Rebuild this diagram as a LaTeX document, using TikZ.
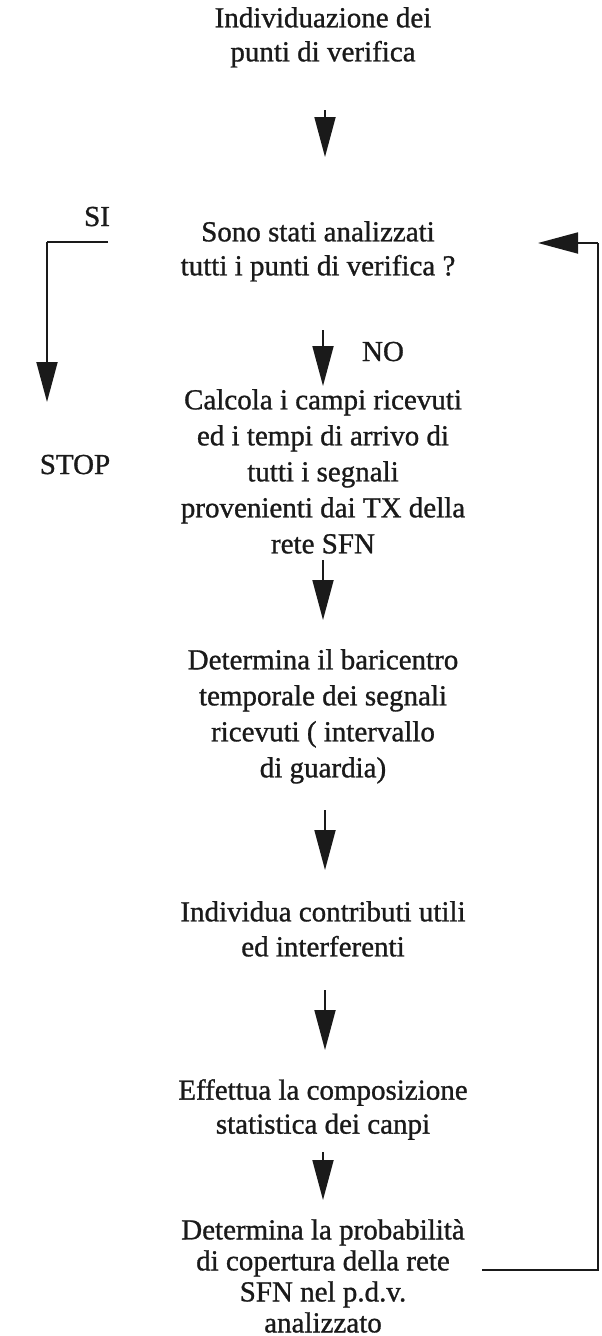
\documentclass[tikz,border=0pt]{standalone}
\usepackage{fontspec}
\setmainfont{Liberation Serif}[FakeBold=1]
\usetikzlibrary{arrows.meta}
\definecolor{ink}{HTML}{1A1A1A}
\tikzset{
  txt/.style={align=center, inner sep=0pt, anchor=north, text=ink,
    font=\fontsize{29}{34}\selectfont},
  lbl/.style={inner sep=0pt, anchor=base, text=ink, font=\fontsize{29}{34}\selectfont},
  arr/.style={draw=ink, line width=1.8pt, -{Triangle[length=40pt,width=21pt]}},
  lne/.style={draw=ink, line width=1.6pt}
}
\begin{document}
\begin{tikzpicture}[x=1pt,y=-1pt]
\useasboundingbox (0,0) rectangle (602,1336);
\node[txt] (n1) at (323,7) {Individuazione dei\\punti di verifica};
\node[txt] (n2) at (318,221) {Sono stati analizzati\\tutti i punti di verifica ?};
\node[txt, font=\fontsize{29}{36}\selectfont] (n3) at (323,389) {Calcola i campi ricevuti\\ed i tempi di arrivo di\\tutti i segnali\\provenienti dai TX della\\rete SFN};
\node[txt, font=\fontsize{29}{36}\selectfont] (n4) at (323,649) {Determina il baricentro\\temporale dei segnali\\ricevuti ( intervallo\\di guardia)};
\node[txt, font=\fontsize{29}{35}\selectfont] (n5) at (323,901) {Individua contributi utili\\ed interferenti};
\node[txt] (n6) at (323,1079) {Effettua la composizione\\statistica dei canpi};
\node[txt, font=\fontsize{29}{31}\selectfont] (n7) at (323,1219) {Determina la probabilità\\di copertura della rete\\SFN nel p.d.v.\\analizzato};
\node[lbl] (si) at (97,226) {SI};
\node[lbl] (no) at (383,361) {NO};
\node[lbl] (stop) at (75,474) {STOP};
% arrow end points
\coordinate (a1s) at (325,110); \coordinate (a1e) at (325,157);
\coordinate (a2s) at (323,330); \coordinate (a2e) at (323,386);
\coordinate (a3s) at (323,560); \coordinate (a3e) at (323,620);
\coordinate (a4s) at (325,810); \coordinate (a4e) at (325,870);
\coordinate (a5s) at (325,990); \coordinate (a5e) at (325,1050);
\coordinate (a6s) at (323,1152); \coordinate (a6e) at (323,1200);
\draw[arr] (a1s) -- (a1e);
\draw[arr] (a2s) -- (a2e);
\draw[arr] (a3s) -- (a3e);
\draw[arr] (a4s) -- (a4e);
\draw[arr] (a5s) -- (a5e);
\draw[arr] (a6s) -- (a6e);
% SI branch
\coordinate (sis) at (108,242); \coordinate (sic) at (47,242); \coordinate (sie) at (47,402);
\draw[lne] (sis) -- (sic);
\draw[arr] (sic) -- (sie);
% feedback loop
\coordinate (lbs) at (482,1270); \coordinate (lbr) at (598,1270);
\coordinate (ltr) at (598,243); \coordinate (lte) at (538,243);
\draw[lne] (lbs) -- (lbr) -- (ltr);
\draw[arr] (ltr) -- (lte);
\end{tikzpicture}
\end{document}
